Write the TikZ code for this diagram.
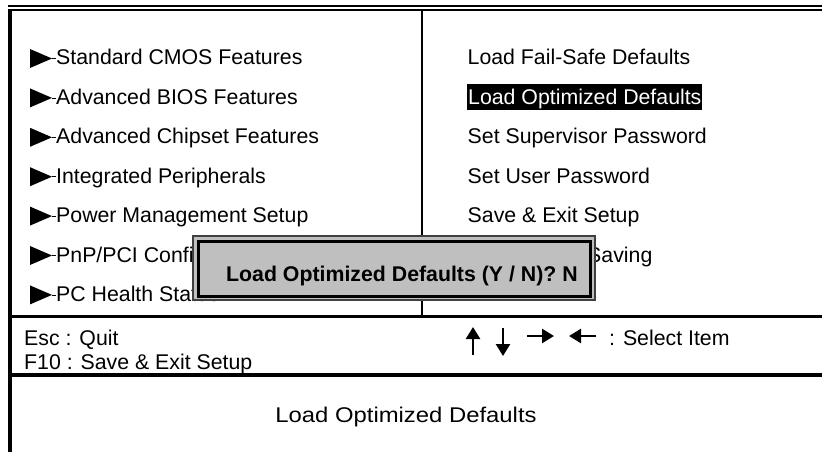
\documentclass[tikz,border=0pt]{standalone}
\usepackage{fontspec}
\setmainfont{Liberation Sans}
\usetikzlibrary{arrows.meta}

\tikzset{
	menu/.style={anchor=base west, inner sep=0pt, font=\fontsize{21.3}{25}\selectfont},
	pick/.style={menu, fill=black, text=white, inner xsep=1pt, text height=20pt, text depth=6pt},
	rule/.style={line width=3.5pt},
	keyarrow/.style={line width=2.5pt, -{Triangle[length=12pt, width=14pt]}},
}

\begin{document}
\begin{tikzpicture}[x=1pt, y=-1pt]
	\useasboundingbox (0,0) rectangle (822,452);
	% frame
	\draw [line width=2.5pt] (8,6) -- (822,6);
	\draw [line width=2pt] (8,10.5) -- (822,10.5);
	\draw [line width=4.5pt] (10,9) -- (10,452);
	\draw [line width=2.5pt] (422,10) -- (422,317);
	\draw [rule] (8,316.5) -- (822,316.5);
	\draw [rule] (8,375) -- (822,375);
	% left column
	\foreach \txt [count=\i from 0] in {Standard CMOS Features, Advanced BIOS Features, Advanced Chipset Features, Integrated Peripherals, Power Management Setup, PnP/PCI Configurations, PC Health Status} {
		\pgfmathsetmacro{\y}{65+39.4*\i}
		\fill (30,\y-16) -- (52,\y-6.5) -- (30,\y+3) -- cycle;
		\draw [line width=0.8pt] (52,\y-6.5) -- (56,\y-6.5);
		\node [menu] (l\i) at (56,\y) {\txt};
	}
	% right column
	\node [menu] (r0) at (467.5,65) {Load Fail-Safe Defaults};
	\node [pick] (r1) at (467,104.4) {Load Optimized Defaults};
	\node [menu] (r2) at (467.5,143.8) {Set Supervisor Password};
	\node [menu] (r3) at (467.5,183.2) {Set User Password};
	\node [menu] (r4) at (467.5,222.6) {Save \& Exit Setup};
	\node [menu] (r5) at (467.5,262) {Exit Without Saving};
	% keys
	\node [menu] (esc) at (24,345) {Esc : Quit};
	\node [menu] (f10) at (24,369) {F10 : Save \& Exit Setup};
	\coordinate (u1) at (473,355); \coordinate (u2) at (473,327);
	\coordinate (d1) at (503,328); \coordinate (d2) at (503,356);
	\coordinate (e1) at (527,336); \coordinate (e2) at (554,336);
	\coordinate (w1) at (596,336); \coordinate (w2) at (569,336);
	\draw [keyarrow] (u1) -- (u2);
	\draw [keyarrow] (d1) -- (d2);
	\draw [keyarrow] (e1) -- (e2);
	\draw [keyarrow] (w1) -- (w2);
	\node [menu] (sel) at (609,345) {: Select Item};
	% help line
	\node [menu, anchor=base, xscale=1.12] (help) at (406,422) {Load Optimized Defaults};
	% dialog
	\draw [draw=black!75, line width=2.5pt, fill=black!25] (193,236) rectangle (595,300);
	\draw [line width=3pt] (198.5,241.5) rectangle (590.5,296.5);
	\node [menu, font=\fontsize{21.3}{25}\selectfont\bfseries] (ask) at (226,281) {Load Optimized Defaults (Y / N)? N};
\end{tikzpicture}
\end{document}
